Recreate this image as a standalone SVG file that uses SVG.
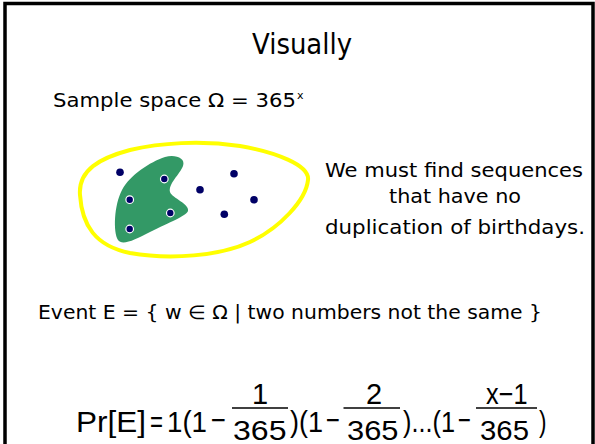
<svg xmlns="http://www.w3.org/2000/svg" width="595" height="444" viewBox="0 0 595 444">
<style>
.t{font-family:"DejaVu Sans","Liberation Sans",sans-serif;fill:#000}
.m{font-family:"Liberation Sans",Arial,sans-serif;font-size:29px;fill:#000}
.d{font-family:"Liberation Sans",Arial,sans-serif;font-size:27px;fill:#000}
.dot{fill:#000066}
.dw{fill:#000066;stroke:#fff;stroke-width:1.2}
.bar{stroke:#000;stroke-width:1.4}
</style>
<rect x="0" y="0" width="595" height="444" fill="#fff"/>
<rect x="5" y="3.5" width="588" height="470" fill="none" stroke="#000" stroke-width="3.5"/>
<g id="title"><text class="t" x="252" y="54" font-size="28" textLength="100" lengthAdjust="spacingAndGlyphs">Visually</text></g>
<g id="sample"><text class="t" x="53" y="107" font-size="19" textLength="243" lengthAdjust="spacingAndGlyphs">Sample space Ω = 365</text><text class="t" x="297" y="99" font-size="11">x</text></g>
<g id="space">
<path d="M80,195 C78,170 100,158 130,150 C160,143 200,140 240,146 C275,152 310,165 308,180 C306,200 280,228 250,242 C220,256 170,260 130,253 C95,246 82,225 80,195 Z" fill="none" stroke="#ffff00" stroke-width="4"/>
<path d="M165,157 C175,154 186,158 183,166 C180,174 168,184 170,192 C172,198 190,204 188,211 C186,216 170,222 150,232 C135,240 122,246 118,240 C113,232 114,205 122,190 C130,175 150,162 165,157 Z" fill="#339966"/>
<circle class="dot" cx="120" cy="172.3" r="3.8"/>
<circle class="dw" cx="164.3" cy="179" r="3.8"/>
<circle class="dw" cx="129.7" cy="199.7" r="3.8"/>
<circle class="dw" cx="170.3" cy="213" r="3.8"/>
<circle class="dw" cx="129.7" cy="229" r="3.8"/>
<circle class="dot" cx="200" cy="189.7" r="3.8"/>
<circle class="dot" cx="234" cy="173.7" r="3.8"/>
<circle class="dot" cx="254" cy="199.7" r="3.8"/>
<circle class="dot" cx="224.3" cy="214.3" r="3.8"/>
</g>
<g id="note">
<text class="t" x="325" y="177" font-size="19" textLength="258" lengthAdjust="spacingAndGlyphs">We must find sequences</text>
<text class="t" x="389" y="203" font-size="19" textLength="132" lengthAdjust="spacingAndGlyphs">that have no</text>
<text class="t" x="325" y="234" font-size="19" textLength="260" lengthAdjust="spacingAndGlyphs">duplication of birthdays.</text>
</g>
<g id="event"><text class="t" x="38" y="319" font-size="19" textLength="504" lengthAdjust="spacingAndGlyphs">Event E = { w ∈ Ω | two numbers not the same }</text></g>
<g id="formula">
<text class="m" x="76" y="432" textLength="70" lengthAdjust="spacingAndGlyphs">Pr[E]</text>
<text class="m" x="150" y="432" textLength="13" lengthAdjust="spacingAndGlyphs">=</text>
<text class="m" x="167" y="432" textLength="40" lengthAdjust="spacingAndGlyphs">1(1</text>
<text class="m" x="211" y="430" textLength="15" lengthAdjust="spacingAndGlyphs">−</text>
<line class="bar" x1="232" y1="408" x2="288" y2="408"/>
<text class="m" x="260" y="404" text-anchor="middle">1</text>
<text class="d" x="233" y="440" textLength="53.5" lengthAdjust="spacingAndGlyphs">365</text>
<text class="m" x="290" y="432" textLength="33" lengthAdjust="spacingAndGlyphs">)(1</text>
<text class="m" x="326" y="430" textLength="14" lengthAdjust="spacingAndGlyphs">−</text>
<line class="bar" x1="343.5" y1="408" x2="400" y2="408"/>
<text class="m" x="374" y="404" text-anchor="middle">2</text>
<text class="d" x="347" y="440" textLength="51.5" lengthAdjust="spacingAndGlyphs">365</text>
<text class="m" x="403" y="432" textLength="52" lengthAdjust="spacingAndGlyphs">)...(1</text>
<text class="m" x="458" y="430" textLength="13" lengthAdjust="spacingAndGlyphs">−</text>
<line class="bar" x1="476" y1="408" x2="537" y2="408"/>
<text class="m" x="486" y="404" textLength="41.5" lengthAdjust="spacingAndGlyphs">x−1</text>
<text class="d" x="480" y="440" textLength="49" lengthAdjust="spacingAndGlyphs">365</text>
<text class="m" x="539" y="432" textLength="7.5" lengthAdjust="spacingAndGlyphs">)</text>
</g>
</svg>
